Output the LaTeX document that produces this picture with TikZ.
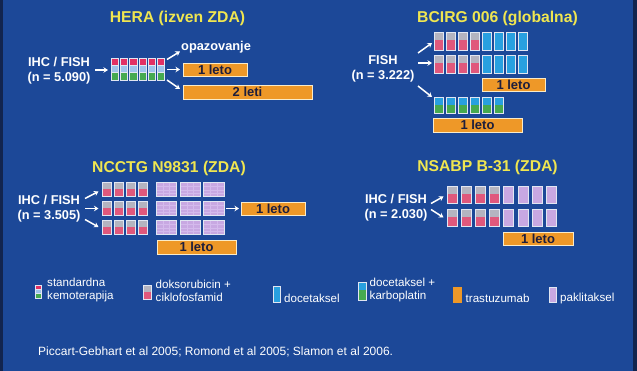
\documentclass[tikz,border=0pt]{standalone}
\usepackage{fontspec}
\setmainfont{Liberation Sans}
\usetikzlibrary{arrows.meta}
\definecolor{bg}{RGB}{28,72,152}
\definecolor{bgedge}{RGB}{18,36,78}
\definecolor{ttl}{RGB}{240,230,80}
\definecolor{orng}{RGB}{238,152,40}
\definecolor{barline}{RGB}{250,235,200}
\definecolor{bartext}{RGB}{30,30,60}
\definecolor{cred}{RGB}{226,48,100}
\definecolor{cpink}{RGB}{224,88,124}
\definecolor{clblue}{RGB}{160,195,235}
\definecolor{cgreen}{RGB}{70,170,80}
\definecolor{cgrey}{RGB}{180,180,192}
\definecolor{cblue}{RGB}{40,160,224}
\definecolor{clav}{RGB}{200,168,226}
\definecolor{clavline}{RGB}{212,186,236}
\definecolor{cell}{RGB}{225,230,242}
\tikzset{
 ttlnode/.style={text=ttl, font=\fontsize{15.7}{18}\selectfont\bfseries, inner sep=0},
 lbl/.style={text=white, font=\fontsize{12.8}{15}\selectfont\bfseries, align=center, inner sep=0},
 leg/.style={text=white, font=\fontsize{11.6}{13}\selectfont, align=left, inner sep=0, anchor=west},
 citestyle/.style={text=white, font=\fontsize{12}{14}\selectfont, inner sep=0, anchor=west},
 obar/.style={fill=orng, draw=barline, line width=0.8pt, text=bartext, font=\fontsize{13}{15}\selectfont\bfseries, inner sep=0},
 arr/.style={white, line width=1.5pt, -{Stealth[length=4.5pt,width=5.5pt]}},
 cellline/.style={draw=cell, line width=0.7pt},
}
% x, ytop, w, h
\newcommand\threecol[4]{%
 \pgfmathsetmacro\xl{#1}\pgfmathsetmacro\xr{#1+#3}%
 \pgfmathsetmacro\ya{#2}\pgfmathsetmacro\yb{#2+#4/3}\pgfmathsetmacro\yc{#2+2*#4/3}\pgfmathsetmacro\yd{#2+#4}%
 \filldraw[cellline,fill=cred] (\xl,\ya) rectangle (\xr,\yb);
 \filldraw[cellline,fill=clblue] (\xl,\yb) rectangle (\xr,\yc);
 \filldraw[cellline,fill=cgreen] (\xl,\yc) rectangle (\xr,\yd);}
% x, ytop, w, h, top colour, bottom colour
\newcommand\twocol[6]{%
 \pgfmathsetmacro\xl{#1}\pgfmathsetmacro\xr{#1+#3}%
 \pgfmathsetmacro\ya{#2}\pgfmathsetmacro\yb{#2+0.47*#4}\pgfmathsetmacro\yd{#2+#4}%
 \fill[#5] (\xl,\ya) rectangle (\xr,\yb);
 \fill[#6] (\xl,\yb) rectangle (\xr,\yd);
 \draw[cellline] (\xl,\ya) rectangle (\xr,\yd);}
% x, ytop, w, h, colour
\newcommand\onecol[5]{%
 \pgfmathsetmacro\xl{#1}\pgfmathsetmacro\xr{#1+#3}%
 \pgfmathsetmacro\ya{#2}\pgfmathsetmacro\yd{#2+#4}%
 \filldraw[cellline,fill=#5] (\xl,\ya) rectangle (\xr,\yd);}
% lavender textured block: x, ytop, w, h
\newcommand\lavblock[4]{%
 \pgfmathsetmacro\xl{#1}\pgfmathsetmacro\xr{#1+#3}%
 \pgfmathsetmacro\ya{#2}\pgfmathsetmacro\yd{#2+#4}%
 \fill[clav] (\xl,\ya) rectangle (\xr,\yd);
 \foreach \k in {1,2} {\pgfmathsetmacro\xv{#1+\k*#3/3}\draw[clavline,line width=0.5pt] (\xv,\ya) -- (\xv,\yd);}
 \foreach \k in {1,2,3} {\pgfmathsetmacro\yh{#2+\k*#4/4}\draw[clavline,line width=0.3pt] (\xl,\yh) -- (\xr,\yh);}
 \draw[cellline] (\xl,\ya) rectangle (\xr,\yd);}
\begin{document}
\begin{tikzpicture}[x=1pt,y=-1pt]
\useasboundingbox (0,0) rectangle (637,371);
\fill[bg] (0,0) rectangle (637,371);
\fill[bgedge] (0,0) rectangle (3,371);
\fill[bgedge] (633,0) rectangle (637,371);

% ---------------- HERA ----------------
\node[ttlnode] (heraT) at (177.5,18) {HERA (izven ZDA)};
\node[lbl] (heraL) at (59,71) {IHC / FISH\\(n = 5.090)};
\coordinate (hA) at (95,70); \coordinate (hB) at (108,70);
\draw[arr] (hA) -- (hB);
\foreach \i in {0,...,5} {\threecol{111+9.3*\i}{58.3}{7.3}{21.7}}
\coordinate (hC1) at (167,59.5); \coordinate (hD1) at (180,51.5);
\coordinate (hC2) at (167,69.5); \coordinate (hD2) at (180,69.5);
\coordinate (hC3) at (167,80); \coordinate (hD3) at (180,89);
\draw[arr] (hC1) -- (hD1);
\draw[arr] (hC2) -- (hD2);
\draw[arr] (hC3) -- (hD3);
\node[lbl, anchor=west] (opaz) at (181,47.5) {opazovanje};
\node[obar, minimum width=64pt, minimum height=13pt] (hbar1) at (215,69.5) {1 leto};
\node[obar, minimum width=129pt, minimum height=14pt] (hbar2) at (247.5,92) {2 leti};

% ---------------- BCIRG 006 ----------------
\node[ttlnode] (bcT) at (497.5,18) {BCIRG 006 (globalna)};
\node[lbl] (bcL) at (383,68.5) {FISH\\(n = 3.222)};
\coordinate (bA1) at (418,53); \coordinate (bB1) at (432,43);
\coordinate (bA2) at (418,63); \coordinate (bB2) at (432,63);
\coordinate (bA3) at (418,86); \coordinate (bB3) at (432,97);
\draw[arr] (bA1) -- (bB1);
\draw[arr] (bA2) -- (bB2);
\draw[arr] (bA3) -- (bB3);
\foreach \i in {0,...,3} {\twocol{434.5+12*\i}{32}{8.5}{18}{cgrey}{cpink}}
\foreach \i in {4,...,7} {\onecol{434.5+12*\i}{32}{8.5}{18}{cblue}}
\foreach \i in {0,...,3} {\twocol{434.5+12*\i}{55}{8.5}{18}{cgrey}{cpink}}
\foreach \i in {4,...,7} {\onecol{434.5+12*\i}{55}{8.5}{18}{cblue}}
\node[obar, minimum width=63pt, minimum height=13pt] (bbar1) at (513.5,84.5) {1 leto};
\foreach \i in {0,...,5} {\twocol{434.5+12*\i}{97}{8.5}{16}{cblue}{cgreen}}
\node[obar, minimum width=89pt, minimum height=14pt] (bbar2) at (477.5,125) {1 leto};

% ---------------- NCCTG N9831 ----------------
\node[ttlnode] (ncT) at (169,168) {NCCTG N9831 (ZDA)};
\node[lbl] (ncL) at (49,208.5) {IHC / FISH\\(n = 3.505)};
\coordinate (nA1) at (85,198.5); \coordinate (nB1) at (98.5,191.5);
\coordinate (nA2) at (85,208.5); \coordinate (nB2) at (98.5,208.5);
\coordinate (nA3) at (85,219.5); \coordinate (nB3) at (98.5,227);
\draw[arr] (nA1) -- (nB1);
\draw[arr] (nA2) -- (nB2);
\draw[arr] (nA3) -- (nB3);
\foreach \r in {182.7,201.7,220.7} {
  \foreach \i in {0,...,3} {\twocol{102.3+12*\i}{\r}{8.7}{14}{cgrey}{cpink}}
  \foreach \xx in {156,180,203.5} {\lavblock{\xx}{\r}{20.5}{14}}
}
\coordinate (nC) at (226,208.5); \coordinate (nD) at (239,208.5);
\draw[arr] (nC) -- (nD);
\node[obar, minimum width=64pt, minimum height=12.5pt] (nbar1) at (273,209) {1 leto};
\node[obar, minimum width=79pt, minimum height=14pt] (nbar2) at (196.5,247) {1 leto};

% ---------------- NSABP B-31 ----------------
\node[ttlnode] (nsT) at (487.5,167.5) {NSABP B-31 (ZDA)};
\node[lbl] (nsL) at (396,207.5) {IHC / FISH\\(n = 2.030)};
\coordinate (sA1) at (431,203.5); \coordinate (sB1) at (443.5,196.5);
\coordinate (sA2) at (431,209.5); \coordinate (sB2) at (443.5,217.5);
\draw[arr] (sA1) -- (sB1);
\draw[arr] (sA2) -- (sB2);
\foreach \r in {186,209.3} {
  \foreach \i in {0,...,3} {\twocol{447+14.2*\i}{\r}{10}{17.3}{cgrey}{cpink}}
  \foreach \i in {4,...,7} {\onecol{447+14.2*\i}{\r}{10}{17.3}{clav}}
}
\node[obar, minimum width=70pt, minimum height=13.5pt] (sbar) at (538,239) {1 leto};

% ---------------- Legend ----------------
\threecol{35.5}{285}{6}{13}
\node[leg] (lg1) at (47,290.5) {standardna\\kemoterapija};
\twocol{143}{285}{8}{14}{cgrey}{cpink}
\node[leg] (lg2) at (155.5,290.5) {doksorubicin +\\ciklofosfamid};
\onecol{273}{286}{7}{16}{cblue}
\node[leg] (lg3) at (284,298.5) {docetaksel};
\twocol{358.5}{282}{7.5}{18}{cblue}{cgreen}
\node[leg] (lg4) at (369.5,290.5) {docetaksel +\\karboplatin};
\fill[orng] (453,287) rectangle (462,303);
\node[leg] (lg5) at (465.5,298.5) {trastuzumab};
\onecol{549}{287}{7}{15}{clav}
\node[leg] (lg6) at (560,298.5) {paklitaksel};

\node[citestyle] (cite) at (38,352) {Piccart-Gebhart et al 2005; Romond et al 2005; Slamon et al 2006.};
\end{tikzpicture}
\end{document}
